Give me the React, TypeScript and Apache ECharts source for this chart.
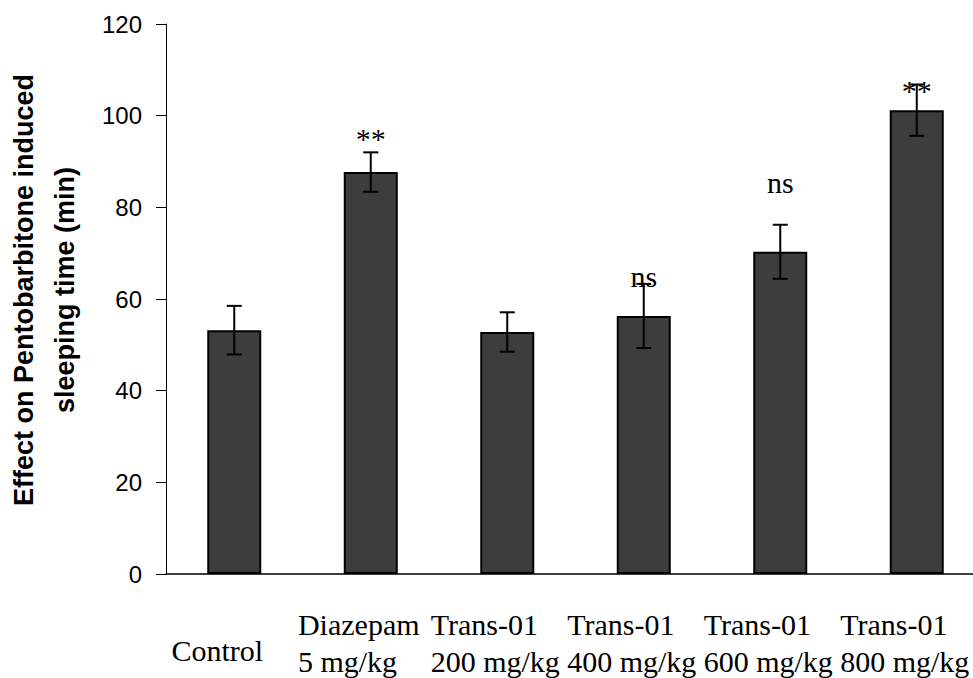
import React, { useEffect, useRef } from 'react';
import * as echarts from 'echarts';

const categories = [
  'Control',
  'Diazepam\n5 mg/kg',
  'Trans-01\n200 mg/kg',
  'Trans-01\n400 mg/kg',
  'Trans-01\n600 mg/kg',
  'Trans-01\n800 mg/kg',
];
const means = [53.2, 87.7, 52.8, 56.3, 70.3, 101.2];
const sems = [5.3, 4.3, 4.3, 7.0, 5.9, 5.6];
const sigLabels = ['', '**', '', 'ns', 'ns', '**'];
const sigPositions: (number | null)[] = [null, 95, null, 65, 85.5, 105.4];
const yTicks = [0, 20, 40, 60, 80, 100, 120];
const yTitle = ['Effect on Pentobarbitone induced', 'sleeping time (min)'];

const SERIF = '"Liberation Serif", "Times New Roman", serif';
const SANS = '"Liberation Sans", Arial, sans-serif';

export default function App() {
  const ref = useRef<HTMLDivElement>(null);
  useEffect(() => {
    if (!ref.current) return;
    const chart = echarts.init(ref.current, null, { renderer: 'svg' });
    const errData = means.map((m, i) => [i, m, sems[i]]);
    const sigData = sigLabels
      .map((t, i) => [i, sigPositions[i], t])
      .filter((d) => d[1] !== null);
    chart.setOption({
      animation: false,
      backgroundColor: '#fff',
      grid: { left: 166, top: 24, width: 819, height: 550, outerBoundsMode: 'none' },
      xAxis: {
        type: 'category',
        data: categories,
        axisLine: { show: true, lineStyle: { color: '#000', width: 1.5 } },
        axisTick: { show: false },
        axisLabel: {
          interval: 0,
          margin: 32,
          padding: [0, 24, 0, 0],
          color: '#000',
          fontFamily: SERIF,
          fontSize: 30,
          lineHeight: 37,
          formatter: (v: string) => {
            if (v.indexOf('\n') < 0) return '{c|' + v + '}';
            return v
              .split('\n')
              .map((s) => '{l|' + s + '}')
              .join('\n');
          },
          rich: {
            l: { align: 'left', fontFamily: SERIF, fontSize: 30, lineHeight: 37, color: '#000' },
            c: { fontFamily: SERIF, fontSize: 30, lineHeight: 37, color: '#000', padding: [51, 10, 0, 0] },
          },
        },
        splitLine: { show: false },
      },
      yAxis: {
        type: 'value',
        min: yTicks[0],
        max: yTicks[yTicks.length - 1],
        interval: yTicks[1] - yTicks[0],
        axisLine: { show: true, lineStyle: { color: '#000', width: 1 } },
        axisTick: { show: true, length: 10, lineStyle: { color: '#000', width: 1 } },
        axisLabel: { margin: 24, color: '#000', fontFamily: SANS, fontSize: 24 },
        splitLine: { show: false },
      },
      graphic: [
        {
          type: 'text',
          x: 44,
          y: 290,
          rotation: Math.PI / 2,
          style: {
            text: yTitle.join('\n'),
            font: 'bold 27px ' + SANS,
            fill: '#000',
            align: 'center',
            verticalAlign: 'middle',
            lineHeight: 41,
          },
        },
      ],
      series: [
        {
          type: 'bar',
          data: means,
          barWidth: 54,
          itemStyle: { color: '#3d3d3d', borderColor: '#000', borderWidth: 2 },
          z: 2,
        },
        {
          type: 'custom',
          data: errData,
          encode: { x: 0, y: 1 },
          z: 3,
          renderItem: (params: any, api: any) => {
            const i = api.value(0);
            const m = api.value(1);
            const s = api.value(2);
            const top = api.coord([i, m + s]);
            const bot = api.coord([i, m - s]);
            const half = 7.5;
            const st = { stroke: '#000', lineWidth: 2 };
            return {
              type: 'group',
              children: [
                { type: 'line', shape: { x1: top[0], y1: top[1], x2: bot[0], y2: bot[1] }, style: st },
                { type: 'line', shape: { x1: top[0] - half, y1: top[1], x2: top[0] + half, y2: top[1] }, style: st },
                { type: 'line', shape: { x1: bot[0] - half, y1: bot[1], x2: bot[0] + half, y2: bot[1] }, style: st },
              ],
            };
          },
        },
        {
          type: 'custom',
          data: sigData,
          encode: { x: 0, y: 1 },
          z: 4,
          renderItem: (params: any, api: any) => {
            const i = api.value(0);
            const p = api.value(1);
            const t = sigData[params.dataIndex][2] as string;
            const c = api.coord([i, p]);
            return {
              type: 'text',
              x: c[0],
              y: c[1],
              style: {
                text: t,
                font: '30px ' + SERIF,
                fill: '#000',
                align: 'center',
                verticalAlign: 'middle',
              },
            };
          },
        },
      ],
    });
    return () => chart.dispose();
  }, []);
  return (
    <div
      ref={ref}
      style={{ position: 'absolute', left: 0, top: 0, width: 973, height: 678, background: '#fff' }}
    />
  );
}
